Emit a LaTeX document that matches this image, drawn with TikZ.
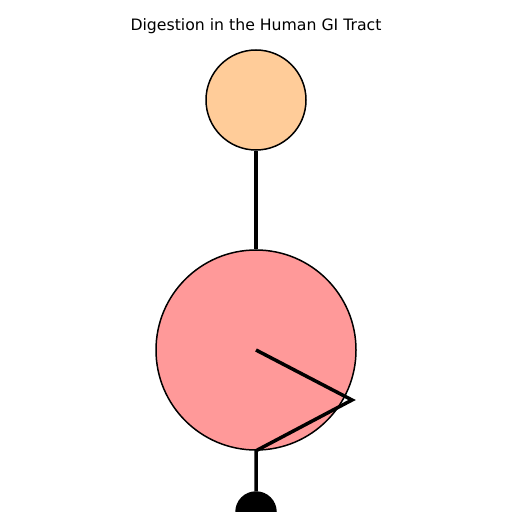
\documentclass[tikz,border=0pt]{standalone}
\usepackage{fontspec}
\setmainfont{DejaVu Sans}
\begin{document}
\begin{tikzpicture}[x=1bp,y=-1bp,
  organ/.style={circle,draw=black,line width=1.5bp,inner sep=0pt},
  tract/.style={draw=black,line width=3.5bp,miter limit=10}]
\clip (0,0) rectangle (512,512);
\fill[white] (0,0) rectangle (512,512);
\node[font=\fontsize{15.7bp}{18bp}\selectfont] (title) at (256,26) {Digestion in the Human GI Tract};
\node[organ,fill={rgb,255:red,255;green,204;blue,153},minimum size=100bp] (mouth) at (256,100) {};
\node[organ,fill={rgb,255:red,255;green,153;blue,153},minimum size=200bp] (stomach) at (256,350) {};
\node[organ,fill=black,minimum size=40bp] (end) at (256,512) {};
\coordinate (tip) at (352,400);
\draw[tract] (mouth.south) -- (stomach.north);
\draw[tract] (stomach.center) -- (tip) -- (stomach.south) -- (end.north);
\end{tikzpicture}
\end{document}
